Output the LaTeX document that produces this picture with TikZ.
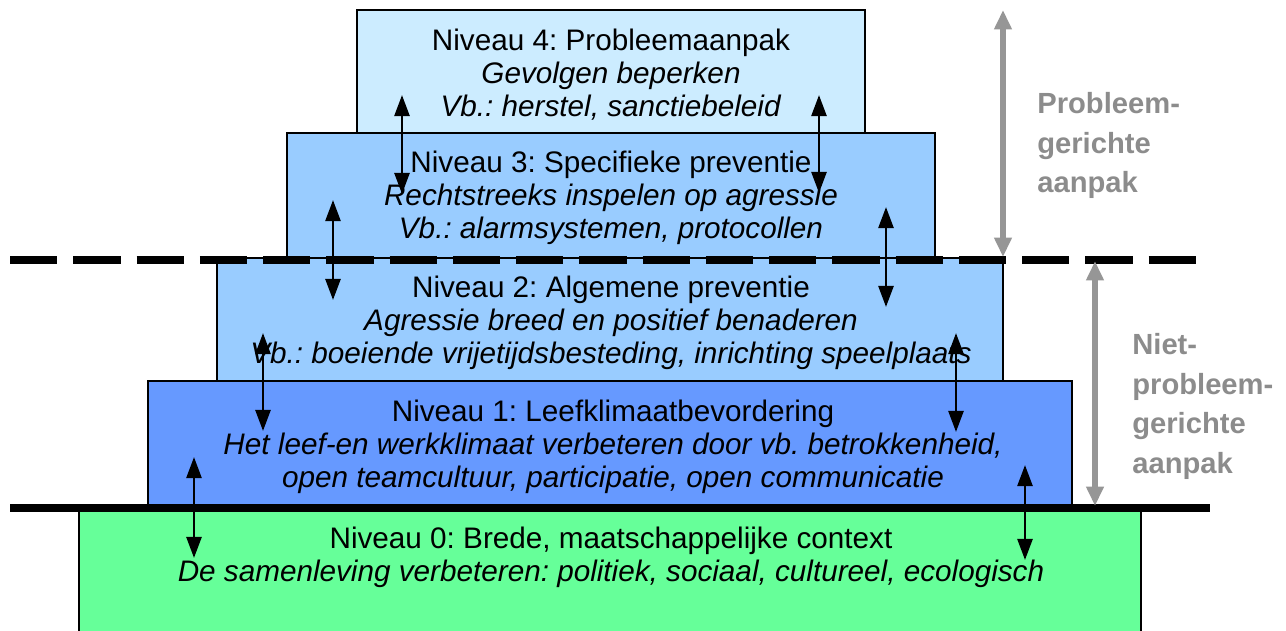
\documentclass[tikz,border=0pt]{standalone}
\usepackage{fontspec}
\setmainfont{Liberation Sans}
\usepackage{xcolor}
\usetikzlibrary{arrows.meta}
\frenchspacing

\definecolor{lvfour}{RGB}{204,236,255}
\definecolor{lvthree}{RGB}{153,204,255}
\definecolor{lvtwo}{RGB}{153,204,255}
\definecolor{lvone}{RGB}{102,153,255}
\definecolor{lvzero}{RGB}{102,255,153}
\definecolor{grijs}{RGB}{150,150,150}
\definecolor{grijstekst}{RGB}{140,140,140}

\tikzset{
  laag/.style={draw=black, line width=0.9pt},
  tekst/.style={align=center, font=\fontsize{16.9}{18.8}\selectfont},
  zijtekst/.style={align=left, anchor=north west, inner sep=0pt, text=grijstekst,
    font=\fontsize{16.6}{22.5}\selectfont\bfseries},
  pijl/.style={line width=1.6pt, {Triangle[length=12pt,width=8.5pt]}-{Triangle[length=12pt,width=8.5pt]}},
  grijspijl/.style={draw=grijs, line width=3.6pt, {Triangle[length=11pt,width=9.5pt]}-{Triangle[length=11pt,width=9.5pt]}}
}

\begin{document}
\begin{tikzpicture}[x={(0.02cm,0)}, y={(0,-0.02cm)}]
        \useasboundingbox (0,0) rectangle (1286,630);
        \clip (0,0) rectangle (1286,630);
        \filldraw[laag, fill=lvzero] (79,507) rectangle (1141,660);
        \filldraw[laag, fill=lvone] (148,381) rectangle (1072,507);
        \filldraw[laag, fill=lvtwo] (217,258) rectangle (1003,381);
        \filldraw[laag, fill=lvthree] (287,133) rectangle (935,258);
        \filldraw[laag, fill=lvfour] (357,10) rectangle (865,133);
        \node[tekst](t4) at (611,75) {Niveau 4: Probleemaanpak\\\textit{Gevolgen beperken}\\\textit{Vb.: herstel, sanctiebeleid}};
        \node[tekst](t3) at (611,198) {Niveau 3: Specifieke preventie\\\textit{Rechtstreeks inspelen op agressie}\\\textit{Vb.: alarmsystemen, protocollen}};
        \node[tekst](t2) at (611,323) {Niveau 2: Algemene preventie\\\textit{Agressie breed en positief benaderen}\\\textit{Vb.: boeiende vrijetijdsbesteding, inrichting speelplaats}};
        \node[tekst](t1) at (613,447) {Niveau 1: Leefklimaatbevordering\\\textit{Het leef-en werkklimaat verbeteren door vb. betrokkenheid,}\\\textit{open teamcultuur, participatie, open communicatie}};
        \node[tekst](t0) at (611,557) {Niveau 0: Brede, maatschappelijke context\\\textit{De samenleving verbeteren: politiek, sociaal, cultureel, ecologisch}};
        \coordinate(dl) at (10,260);
        \coordinate(dr) at (1200,260);
        \coordinate(sl) at (10,508);
        \coordinate(sr) at (1210,508);
        \draw[line width=4pt, dash pattern=on 27pt off 9pt](dl)--(dr);
        \draw[line width=4pt](sl)--(sr);
        \foreach \n/\x/\ya/\yb in {1/402/95/194, 2/819/95/193, 3/333/200/300, 4/886/207/307,
                                   5/263/333/431, 6/956/333/432, 7/194/457/558, 8/1025/465/560}{
          \coordinate(b\n) at (\x,\ya);
          \coordinate(o\n) at (\x,\yb);
          \draw[pijl](b\n)--(o\n);
        }
        \coordinate(pb) at (1003,10);
        \coordinate(po) at (1003,257);
        \coordinate(nb) at (1095,261);
        \coordinate(no) at (1095,506);
        \draw[grijspijl](pb)--(po);
        \draw[grijspijl](nb)--(no);
        \node[zijtekst](pg) at (1037,92) {Probleem-\\gerichte\\aanpak};
        \node[zijtekst](ng) at (1132,333) {Niet-\\probleem-\\gerichte\\aanpak};
\end{tikzpicture}
\end{document}
